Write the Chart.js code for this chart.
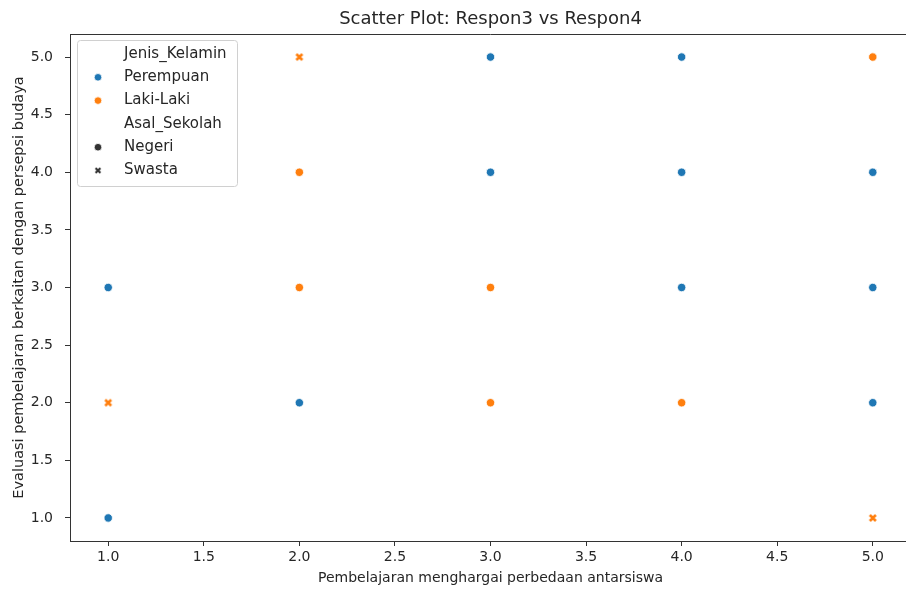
<!DOCTYPE html>
<html>
<head>
<meta charset="utf-8">
<script src="https://cdn.jsdelivr.net/npm/chart.js@4/dist/chart.umd.min.js"></script>
<style>
  html, body { margin: 0; padding: 0; background: #fff; overflow: hidden; }
  #wrap { width: 930px; height: 590px; }
</style>
</head>
<body>
<div id="wrap"><canvas id="scatterChart" width="930" height="590"></canvas></div>
<script>
// data
const tickValues = [1.0, 1.5, 2.0, 2.5, 3.0, 3.5, 4.0, 4.5, 5.0];

const perempuanX = [1, 1, 2, 3, 3, 4, 4, 4, 5, 5, 5];
const perempuanY = [3, 1, 2, 5, 4, 5, 4, 3, 4, 3, 2];

const lakiNegeriX = [2, 2, 3, 3, 4, 5];
const lakiNegeriY = [4, 3, 3, 2, 2, 5];

const lakiSwastaX = [1, 2, 5];
const lakiSwastaY = [2, 5, 1];

const blue = '#1f77b4';
const orange = '#ff7f0e';
const dark = '#333333';
const textColor = '#262626';
const fontFamily = '"DejaVu Sans", sans-serif';

function toPoints(xs, ys) {
    return xs.map((x, i) => ({ x: x, y: ys[i] }));
}

// filled "X" marker like seaborn's second style
function makeX(color, size) {
    const c = document.createElement('canvas');
    c.width = size; c.height = size;
    const g = c.getContext('2d');
    const p = 2, q = size - 2;
    g.lineCap = 'butt';
    g.strokeStyle = '#fff';
    g.lineWidth = 4.2;
    g.beginPath(); g.moveTo(p, p); g.lineTo(q, q); g.moveTo(q, p); g.lineTo(p, q); g.stroke();
    g.strokeStyle = color;
    g.lineWidth = 2.6;
    g.beginPath(); g.moveTo(p, p); g.lineTo(q, q); g.moveTo(q, p); g.lineTo(p, q); g.stroke();
    return c;
}

const xMarkOrange = makeX(orange, 10);
const xMarkDark = makeX(dark, 10);

// legend entries (headings have no marker)
const legendItems = [
    { text: 'Jenis_Kelamin' },
    { text: 'Perempuan', color: blue, style: 'circle' },
    { text: 'Laki-Laki', color: orange, style: 'circle' },
    { text: 'Asal_Sekolah' },
    { text: 'Negeri', color: dark, style: 'circle' },
    { text: 'Swasta', color: dark, style: 'x' }
];

const insideLegend = {
    id: 'insideLegend',
    afterDraw(chart) {
        const ctx = chart.ctx;
        const area = chart.chartArea;
        const x0 = area.left + 7, y0 = area.top + 6;
        const w = 160, h = 146;
        ctx.save();
        ctx.fillStyle = 'rgba(255,255,255,0.85)';
        ctx.strokeStyle = '#d0d0d0';
        ctx.lineWidth = 1;
        ctx.beginPath();
        ctx.roundRect(x0 + 0.5, y0 + 0.5, w, h, 3);
        ctx.fill();
        ctx.stroke();
        ctx.font = '15px ' + fontFamily;
        ctx.textBaseline = 'middle';
        legendItems.forEach((item, i) => {
            const cy = y0 + 14 + i * 23.3;
            if (item.style === 'circle') {
                ctx.beginPath();
                ctx.arc(x0 + 21, cy, 3.8, 0, Math.PI * 2);
                ctx.fillStyle = item.color;
                ctx.fill();
                ctx.strokeStyle = '#fff';
                ctx.lineWidth = 0.8;
                ctx.stroke();
            } else if (item.style === 'x') {
                ctx.drawImage(xMarkDark, x0 + 21 - 4, cy - 4, 8, 8);
            }
            ctx.fillStyle = textColor;
            ctx.fillText(item.text, x0 + 47, cy);
        });
        ctx.restore();
    }
};

const topSpineAndTitle = {
    id: 'topSpineAndTitle',
    afterDraw(chart) {
        const ctx = chart.ctx;
        const a = chart.chartArea;
        ctx.save();
        ctx.strokeStyle = dark;
        ctx.lineWidth = 1;
        ctx.beginPath();
        ctx.moveTo(a.left, a.top + 0.5);
        ctx.lineTo(a.right, a.top + 0.5);
        ctx.stroke();
        ctx.font = '18px ' + fontFamily;
        ctx.fillStyle = textColor;
        ctx.textAlign = 'center';
        ctx.textBaseline = 'middle';
        ctx.fillText('Scatter Plot: Respon3 vs Respon4', (a.left + a.right) / 2, 19);
        ctx.restore();
    }
};

function keepTicks(scale) {
    scale.ticks = tickValues.map(v => ({ value: v }));
}

function axisOptions(pad) {
    return {
        type: 'linear',
        min: 0.8,
        max: 5.2,
        afterBuildTicks: keepTicks,
        border: { display: true, color: dark, width: 1 },
        grid: { display: true, drawOnChartArea: false, drawTicks: true, tickLength: 5, color: dark },
        ticks: {
            color: textColor,
            font: { family: fontFamily, size: 14 },
            padding: pad,
            callback: v => Number(v).toFixed(1)
        }
    };
}

const ctx = document.getElementById('scatterChart');

new Chart(ctx, {
    type: 'scatter',
    data: {
        datasets: [
            {
                label: 'Perempuan',
                data: toPoints(perempuanX, perempuanY),
                backgroundColor: blue,
                borderColor: '#fff',
                borderWidth: 0.8,
                pointRadius: 4.2,
                pointStyle: 'circle'
            },
            {
                label: 'Laki-Laki',
                data: toPoints(lakiNegeriX, lakiNegeriY),
                backgroundColor: orange,
                borderColor: '#fff',
                borderWidth: 0.8,
                pointRadius: 4.2,
                pointStyle: 'circle'
            },
            {
                label: 'Laki-Laki (Swasta)',
                data: toPoints(lakiSwastaX, lakiSwastaY),
                backgroundColor: orange,
                pointRadius: 5,
                pointStyle: xMarkOrange
            }
        ]
    },
    options: {
        responsive: false,
        animation: false,
        layout: { padding: { top: 34, right: 19, left: 0, bottom: 0 } },
        plugins: {
            legend: { display: false },
            tooltip: { enabled: false }
        },
        scales: {
            x: Object.assign(axisOptions(3), {
                afterFit: s => { s.height = 49; },
                title: {
                    display: true,
                    text: 'Pembelajaran menghargai perbedaan antarsiswa',
                    color: textColor,
                    font: { family: fontFamily, size: 14 },
                    padding: { top: 0, bottom: 3.5 }
                }
            }),
            y: Object.assign(axisOptions(12), {
                afterFit: s => { s.width = 70; },
                title: {
                    display: true,
                    text: 'Evaluasi pembelajaran berkaitan dengan persepsi budaya',
                    color: textColor,
                    font: { family: fontFamily, size: 14.5 },
                    padding: { top: 11, bottom: 0 }
                }
            })
        }
    },
    plugins: [topSpineAndTitle, insideLegend]
});
</script>
</body>
</html>
